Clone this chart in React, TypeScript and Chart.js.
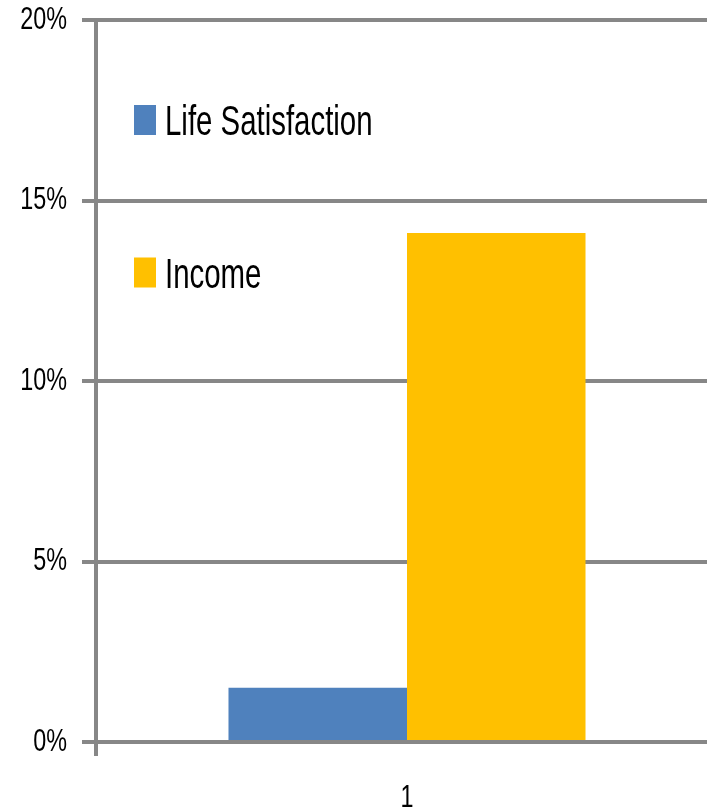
import React, { useEffect, useRef } from "react";
import { Chart, registerables } from "chart.js";

Chart.register(...registerables);

const categories = ["1"];
const seriesNames = ["Life Satisfaction", "Income"];
const lifeSatisfaction = [1.5];
const income = [14.1];
const yMin = 0;
const yMax = 20;
const yStep = 5;

const GRAY = "#878787";
const BLUE = "#4F81BD";
const GOLD = "#FFC000";
const TICK_FONT = "'Liberation Sans', Arial, sans-serif";
const SQUEEZE = 0.73;

const legendPlugin = {
  id: "insideLegend",
  afterDraw(chart: any) {
    const ctx = chart.ctx;
    ctx.save();
    chart.data.datasets.forEach((ds: any, i: number) => {
      const top = 105 + i * 152.5;
      ctx.fillStyle = ds.backgroundColor;
      ctx.fillRect(134, top, 22, 30);
      ctx.save();
      ctx.translate(165, top + 30);
      ctx.scale(0.7, 1);
      ctx.fillStyle = "#000";
      ctx.font = "42px 'Liberation Sans', Arial, sans-serif";
      ctx.textBaseline = "alphabetic";
      ctx.textAlign = "left";
      ctx.fillText(ds.label, 0, 0);
      ctx.restore();
    });
    ctx.restore();
  },
};

// Squeeze the axis labels horizontally (condensed look of the original)
function squeezeLabels(scale: any, anchor: (s: any) => number) {
  if (scale.__squeezed) return;
  scale.__squeezed = true;
  const orig = scale.drawLabels;
  scale.drawLabels = function (area: any) {
    const ctx = this.ctx;
    const ax = anchor(this);
    ctx.save();
    ctx.translate(ax, 0);
    ctx.scale(SQUEEZE, 1);
    ctx.translate(-ax, 0);
    orig.call(this, area);
    ctx.restore();
  };
}

export default function App() {
  const ref = useRef<HTMLCanvasElement | null>(null);

  useEffect(() => {
    if (!ref.current) return;
    const chart = new Chart(ref.current, {
      type: "bar",
      data: {
        labels: categories,
        datasets: [
          { label: seriesNames[0], data: lifeSatisfaction, backgroundColor: BLUE },
          { label: seriesNames[1], data: income, backgroundColor: GOLD },
        ],
      },
      options: {
        animation: false,
        responsive: false,
        devicePixelRatio: 1,
        layout: { autoPadding: false, padding: { top: 20, right: 2, left: 0, bottom: 0 } },
        plugins: { legend: { display: false }, tooltip: { enabled: false } },
        datasets: { bar: { categoryPercentage: 0.574, barPercentage: 1 } },
        scales: {
          x: {
            grid: {
              display: true,
              drawOnChartArea: false,
              drawTicks: true,
              offset: true,
              tickLength: 14,
              lineWidth: 4,
              color: GRAY,
            },
            border: { display: true, color: GRAY, width: 4 },
            ticks: {
              color: "#000",
              padding: 23,
              font: { family: TICK_FONT, size: 32 },
            },
            afterFit: (s: any) => {
              s.height = 88;
              s.paddingLeft = 0;
              s.paddingRight = 0;
              squeezeLabels(s, (sc: any) => sc.getPixelForTick(0));
            },
          },
          y: {
            min: yMin,
            max: yMax,
            ticks: {
              stepSize: yStep,
              color: "#000",
              padding: 15,
              font: { family: TICK_FONT, size: 32 },
              callback: (v: any) => v + "%",
            },
            grid: {
              color: GRAY,
              lineWidth: 4,
              drawTicks: true,
              tickLength: 14,
            },
            border: { display: true, color: GRAY, width: 4 },
            afterFit: (s: any) => {
              s.width = 96;
              s.paddingTop = 0;
              s.paddingBottom = 0;
              squeezeLabels(s, (sc: any) => sc.right - 14 - 15);
            },
          },
        },
      },
      plugins: [legendPlugin],
    });
    return () => chart.destroy();
  }, []);

  return (
    <div
      style={{
        position: "fixed",
        left: 0,
        top: 0,
        width: 707,
        height: 808,
        overflow: "hidden",
        background: "#fff",
      }}
    >
      <canvas ref={ref} width={720} height={830} style={{ display: "block" }} />
    </div>
  );
}
